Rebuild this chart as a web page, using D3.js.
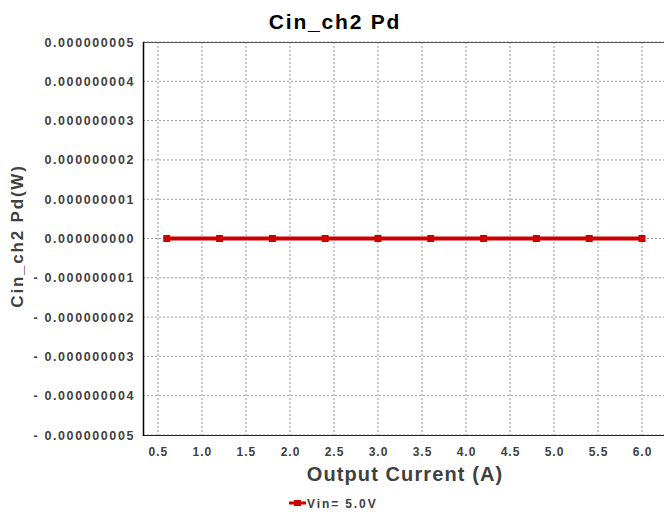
<!DOCTYPE html>
<html>
<head>
<meta charset="utf-8">
<script src="https://cdn.jsdelivr.net/npm/d3@7"></script>
<style>
  body { margin: 0; background: #fff; }
  text { font-family: "Liberation Sans", Arial, sans-serif; font-weight: bold; fill: #404040; }
</style>
</head>
<body>
<div id="chart"></div>
<script>
// data
const current = [0.6, 1.2, 1.8, 2.4, 3.0, 3.6, 4.2, 4.8, 5.4, 6.0]
const pd = [0, 0, 0, 0, 0, 0, 0, 0, 0, 0]
const xTicks = [0.5, 1.0, 1.5, 2.0, 2.5, 3.0, 3.5, 4.0, 4.5, 5.0, 5.5, 6.0]
const yTicks = [5e-9, 4e-9, 3e-9, 2e-9, 1e-9, 0, -1e-9, -2e-9, -3e-9, -4e-9, -5e-9]
const seriesName = "Vin= 5.0V"

const W = 664, H = 516
const plot = { left: 143, right: 664, top: 42, bottom: 435 }

const svg = d3.select("#chart").append("svg")
  .attr("width", W).attr("height", H)

const x = d3.scaleLinear().domain([0.33, 6.25]).range([plot.left, plot.right])
const y = d3.scaleLinear().domain([-5e-9, 5e-9]).range([plot.bottom, plot.top])

const fmtY = v => {
  const s = Math.abs(v).toFixed(9)
  return v < 0 ? "- " + s : s
}

// grid
svg.append("g").selectAll("line").data(xTicks).join("line")
  .attr("x1", d => x(d)).attr("x2", d => x(d))
  .attr("y1", plot.top).attr("y2", plot.bottom)
  .attr("stroke", "#999").attr("stroke-dasharray", "2,2")
svg.append("g").selectAll("line").data(yTicks).join("line")
  .attr("x1", plot.left).attr("x2", plot.right)
  .attr("y1", d => y(d)).attr("y2", d => y(d))
  .attr("stroke", "#999").attr("stroke-dasharray", "2,2")

// frame
svg.append("line").attr("x1", plot.left).attr("x2", plot.right)
  .attr("y1", plot.top + 0.5).attr("y2", plot.top + 0.5).attr("stroke", "#555")
svg.append("line").attr("x1", plot.left).attr("x2", plot.right)
  .attr("y1", plot.bottom + 0.5).attr("y2", plot.bottom + 0.5).attr("stroke", "#222")
svg.append("line").attr("x1", plot.left + 0.5).attr("x2", plot.left + 0.5)
  .attr("y1", plot.top).attr("y2", plot.bottom + 1).attr("stroke", "#000").attr("stroke-width", 1.5)

// tick labels
svg.append("g").selectAll("text").data(yTicks).join("text")
  .attr("x", 135).attr("y", d => y(d) + 4.5)
  .attr("text-anchor", "end").attr("font-size", 12.5).attr("letter-spacing", 1.6)
  .text(fmtY)
svg.append("g").selectAll("text").data(xTicks).join("text")
  .attr("x", d => x(d) + 0.5).attr("y", 456)
  .attr("text-anchor", "middle").attr("font-size", 12).attr("letter-spacing", 1)
  .text(d => d.toFixed(1))

// titles
svg.append("text").attr("x", 335).attr("y", 29)
  .attr("text-anchor", "middle").attr("font-size", 21).attr("letter-spacing", 1.8).style("fill", "#000")
  .text("Cin_ch2 Pd")
svg.append("text").attr("x", 405).attr("y", 481)
  .attr("text-anchor", "middle").attr("font-size", 20).attr("letter-spacing", 1.1)
  .text("Output Current (A)")
svg.append("text")
  .attr("transform", "translate(23,236) rotate(-90)")
  .attr("text-anchor", "middle").attr("font-size", 17).attr("letter-spacing", 1.8)
  .text("Cin_ch2 Pd(W)")

// series
const red = "#cc0000"
const pts = current.map((c, i) => [c, pd[i]])
svg.append("path").datum(pts)
  .attr("fill", "none").attr("stroke", red).attr("stroke-width", 4)
  .attr("d", d3.line().x(d => x(d[0])).y(d => y(d[1])))
svg.append("g").selectAll("rect").data(pts).join("rect")
  .attr("x", d => x(d[0]) - 3.5).attr("y", d => y(d[1]) - 3.5)
  .attr("width", 7).attr("height", 7).attr("fill", red)

// legend
const lg = svg.append("g").attr("transform", "translate(289,503)")
lg.append("line").attr("x1", 0).attr("x2", 17).attr("stroke", red).attr("stroke-width", 3)
lg.append("rect").attr("x", 5).attr("y", -3).attr("width", 7).attr("height", 6).attr("fill", red)
lg.append("text").attr("x", 18).attr("y", 5).attr("font-size", 12).attr("letter-spacing", 1.9)
  .text(seriesName)
</script>
</body>
</html>
